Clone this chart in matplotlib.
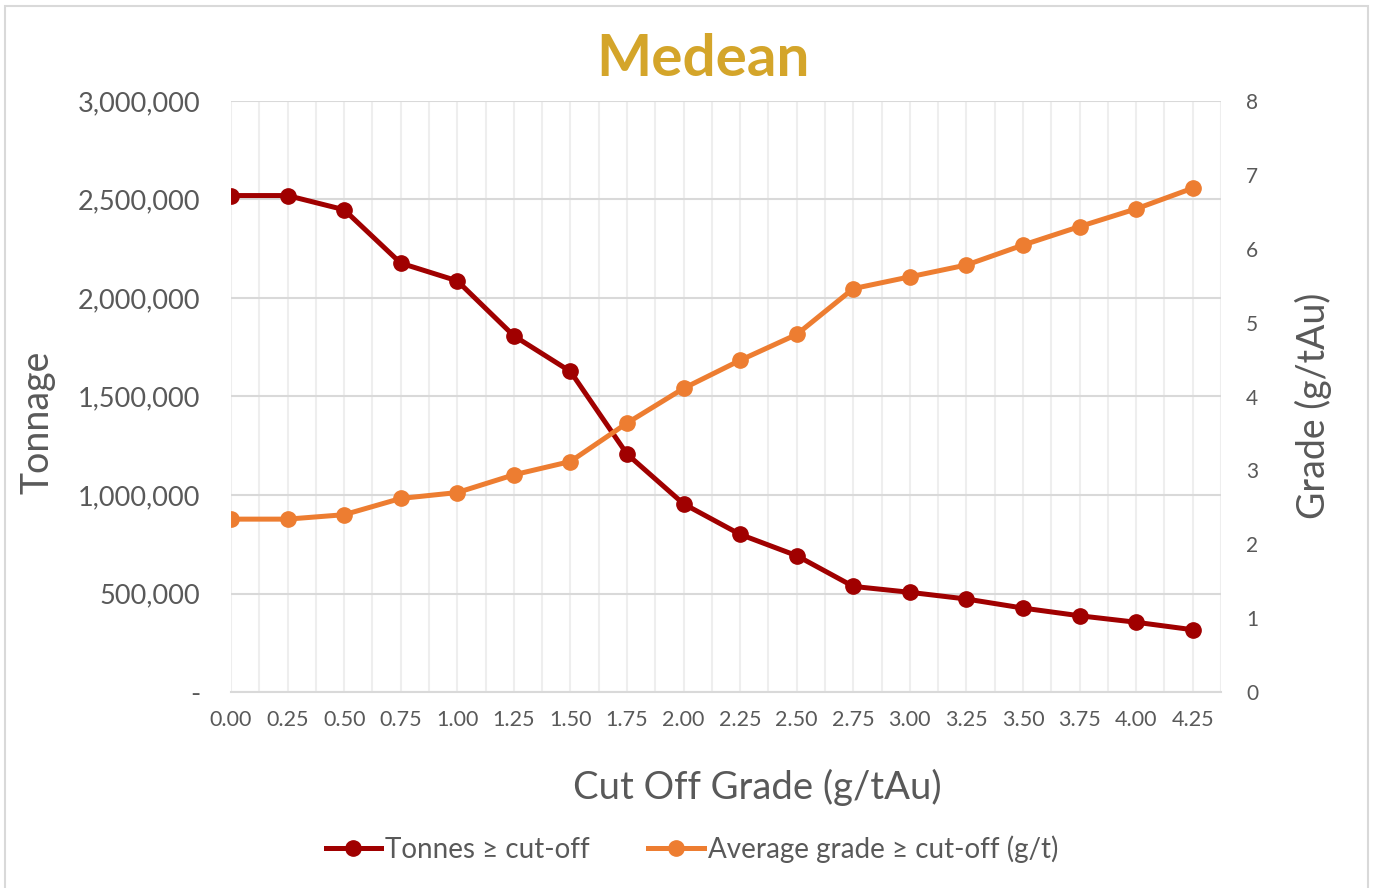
import numpy as np
import matplotlib
matplotlib.use("Agg")
import matplotlib.pyplot as plt
from matplotlib.ticker import FuncFormatter
from matplotlib.patches import Rectangle

plt.rcParams['font.family'] = ['Lato', 'DejaVu Sans']

# data
cutoff = ["0.00", "0.25", "0.50", "0.75", "1.00", "1.25", "1.50", "1.75", "2.00",
          "2.25", "2.50", "2.75", "3.00", "3.25", "3.50", "3.75", "4.00", "4.25"]
tonnes = [2520000, 2520000, 2448000, 2177000, 2087000, 1808000, 1627000, 1208000, 955000,
          800000, 692000, 536000, 506000, 472000, 426000, 387000, 354000, 316000]
grade = [2.34, 2.34, 2.40, 2.62, 2.70, 2.94, 3.12, 3.64, 4.11,
         4.49, 4.84, 5.46, 5.62, 5.78, 6.05, 6.30, 6.54, 6.82]

red = '#A00000'
orange = '#ED7D31'
txt = '#595959'

fig = plt.figure(figsize=(13.74, 8.88), dpi=100)
fig.patches.append(Rectangle((5/1374, -0.01), 1363/1374, 1 - 6/888 + 0.01,
                             transform=fig.transFigure, fill=False,
                             edgecolor='#D9D9D9', lw=1.5, zorder=0))

ax = fig.add_axes([231/1374, 1 - 692/888, 990/1374, 591/888])
ax2 = ax.twinx()

x = np.arange(len(cutoff))
l1, = ax.plot(x, tonnes, color=red, lw=3.6, marker='o', ms=11, label='Tonnes ≥ cut-off', zorder=3)
l2, = ax2.plot(x, grade, color=orange, lw=3.6, marker='o', ms=11,
               label='Average grade ≥ cut-off (g/t)', zorder=3)

ax.set_xlim(0, len(cutoff) - 0.5)
ax.set_ylim(0, 3000000)
ax2.set_ylim(0, 8)
ax.set_yticks(np.arange(0, 3000001, 500000))
ax2.set_yticks(np.arange(0, 9, 1))
ax.yaxis.set_major_formatter(FuncFormatter(lambda v, p: '-' if v == 0 else f'{int(v):,}'))

ax.set_xticks(x)
ax.set_xticklabels(cutoff)
ax.set_xticks(np.arange(0.5, len(cutoff), 1), minor=True)

for a in (ax, ax2):
    for s in a.spines.values():
        s.set_visible(False)
ax.spines['bottom'].set_visible(True)
ax.spines['bottom'].set_color('#D9D9D9')
ax.spines['bottom'].set_linewidth(1.5)

ax.grid(axis='y', color='#D9D9D9', lw=1.5, zorder=0)
ax.grid(axis='x', which='both', color='#EEEEEE', lw=1.5, zorder=0)
ax.set_axisbelow(True)

ax.tick_params(axis='x', which='both', length=0, pad=13, labelsize=15.5, labelcolor=txt)
ax.tick_params(axis='y', length=0, pad=22, labelsize=19.5, labelcolor=txt)
ax2.tick_params(axis='y', length=0, pad=18, labelsize=15, labelcolor=txt)

fig.text(703/1374, 1 - 60/888, 'Medean', ha='center', va='center',
         fontsize=42, fontweight='bold', color='#D4A52A')
fig.text(37/1374, 1 - 422/888, 'Tonnage', rotation=90, ha='center', va='center',
         fontsize=27, color=txt)
fig.text(1313/1374, 1 - 406/888, 'Grade (g/tAu)', rotation=90, ha='center', va='center',
         fontsize=27, color=txt)
fig.text(757/1374, 1 - 787/888, 'Cut Off Grade (g/tAu)', ha='center', va='center',
         fontsize=27.5, color=txt)

leg = fig.legend(handles=[l1, l2], loc='center', bbox_to_anchor=(692/1374, 1 - 849/888),
                 ncol=2, frameon=False, fontsize=20, handlelength=2.0,
                 handletextpad=0.15, columnspacing=2.1)
for t in leg.get_texts():
    t.set_color(txt)

fig.savefig('out.png', dpi=100)
